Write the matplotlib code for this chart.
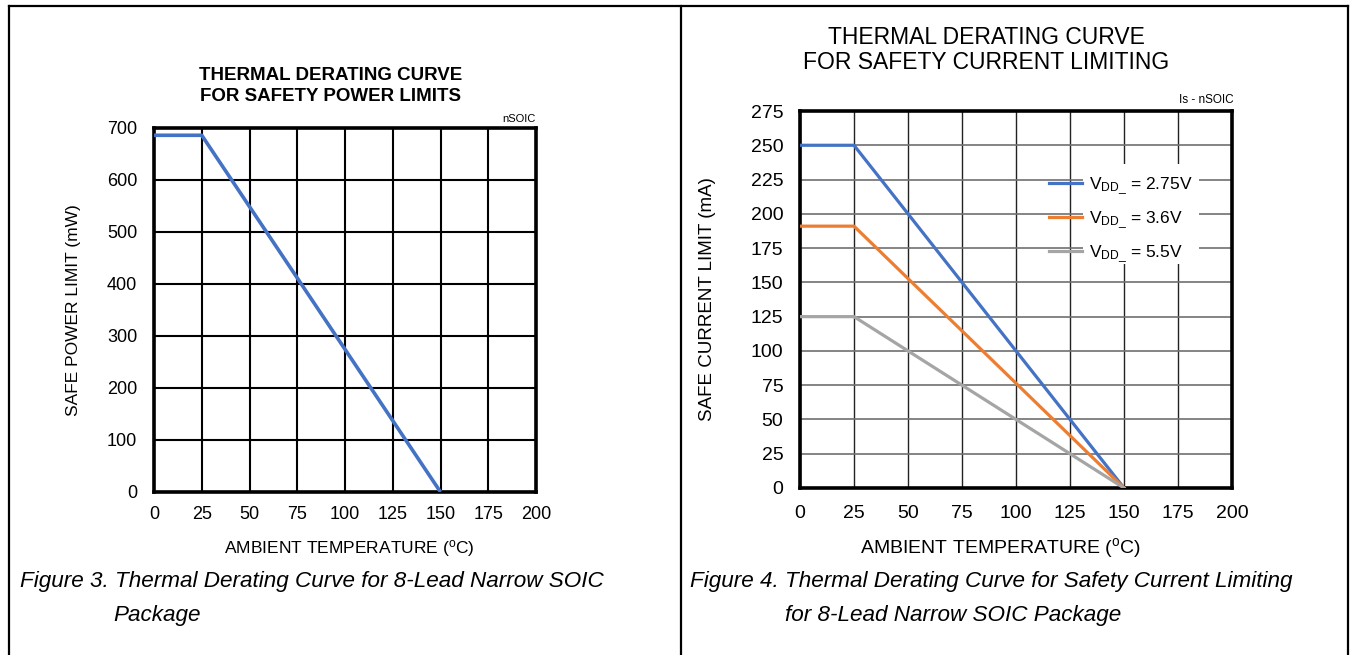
import matplotlib
matplotlib.use("Agg")
import matplotlib.pyplot as plt
from matplotlib import font_manager
from matplotlib.lines import Line2D
from matplotlib.patches import Rectangle

# ---------------- data ----------------
temp_c = [0, 25, 150]
power_mw = [686, 686, 0]

current_labels = [r"V$_{\mathrm{DD\_}}$ = 2.75V", r"V$_{\mathrm{DD\_}}$ = 3.6V", r"V$_{\mathrm{DD\_}}$ = 5.5V"]
current_2v75 = [250, 250, 0]
current_3v6 = [191, 191, 0]
current_5v5 = [125, 125, 0]

x_ticks = [0, 25, 50, 75, 100, 125, 150, 175, 200]
y_ticks_power = [0, 100, 200, 300, 400, 500, 600, 700]
y_ticks_current = [0, 25, 50, 75, 100, 125, 150, 175, 200, 225, 250, 275]

# ---------------- fonts ----------------
names = {f.name for f in font_manager.fontManager.ttflist}
narrow = "Liberation Sans Narrow" if "Liberation Sans Narrow" in names else "Liberation Sans"
plt.rcParams["font.family"] = ["Liberation Sans", "DejaVu Sans"]
plt.rcParams["mathtext.fontset"] = "custom"
plt.rcParams["mathtext.rm"] = "Liberation Sans"
plt.rcParams["mathtext.it"] = "Liberation Sans:italic"

W, H = 1353, 655
fig = plt.figure(figsize=(W / 100, H / 100), dpi=100)


def fx(px):
    return px / W


def fy(py):
    return 1 - py / H


# outer frame lines
for (x0, y0, x1, y1) in [(9, 6, 1348, 6), (9, 6, 9, 655), (1348, 6, 1348, 655), (681, 6, 681, 655)]:
    fig.add_artist(Line2D([fx(x0), fx(x1)], [fy(y0), fy(y1)], color="black", lw=1.6,
                          transform=fig.transFigure))

# ---------------- left chart ----------------
ax1 = fig.add_axes([fx(154), fy(492), fx(536) - fx(154), fy(128) - fy(492)])
ax1.plot(temp_c, power_mw, color="#4472C4", lw=2.6, solid_capstyle="butt", zorder=3)
ax1.set_xlim(0, 200)
ax1.set_ylim(0, 700)
ax1.set_xticks(x_ticks)
ax1.set_yticks(y_ticks_power)
ax1.grid(True, color="black", lw=1.5)
ax1.set_axisbelow(True)
for s in ax1.spines.values():
    s.set_linewidth(2.6)
    s.set_color("black")
ax1.tick_params(length=0, labelsize=13)
ax1.tick_params(axis="y", pad=12)
ax1.tick_params(axis="x", pad=10)
for lab in ax1.get_xticklabels() + ax1.get_yticklabels():
    lab.set_family(narrow)
ax1.set_ylabel("SAFE POWER LIMIT (mW)", fontsize=12.5, family=narrow)
ax1.yaxis.set_label_coords((81 - 154) / 382, 0.5)
ax1.set_xlabel(r"AMBIENT TEMPERATURE ($^{\mathrm{o}}$C)", fontsize=12.5, family=narrow, va="center")
ax1.xaxis.set_label_coords(0.512, -(548 - 492) / 364)

fig.text(fx(331), fy(86), "THERMAL DERATING CURVE\nFOR SAFETY POWER LIMITS", ha="center", va="center",
         fontsize=13.5, fontweight="bold", family=narrow, linespacing=1.3)
fig.text(fx(536), fy(119), "nSOIC", ha="right", va="center", fontsize=8, family=narrow)

fig.text(fx(20), fy(581), "Figure 3. Thermal Derating Curve for 8-Lead Narrow SOIC", ha="left", va="center",
         fontsize=16.2, style="italic")
fig.text(fx(113), fy(615), "Package", ha="left", va="center", fontsize=16.2, style="italic")

# ---------------- right chart ----------------
ax2 = fig.add_axes([fx(800), fy(488), fx(1232) - fx(800), fy(111) - fy(488)])
ax2.plot(temp_c, current_2v75, color="#4472C4", lw=2.3, label=current_labels[0], zorder=3)
ax2.plot(temp_c, current_3v6, color="#ED7D31", lw=2.3, label=current_labels[1], zorder=3)
ax2.plot(temp_c, current_5v5, color="#A5A5A5", lw=2.3, label=current_labels[2], zorder=3)
ax2.set_xlim(0, 200)
ax2.set_ylim(0, 275)
ax2.set_xticks(x_ticks)
ax2.set_yticks(y_ticks_current)
ax2.grid(True, axis="x", color="#222222", lw=1.0)
ax2.grid(True, axis="y", color="#707070", lw=1.2)
ax2.set_axisbelow(True)
for s in ax2.spines.values():
    s.set_linewidth(2.6)
    s.set_color("black")
ax2.tick_params(length=0, labelsize=14)
ax2.tick_params(axis="y", pad=12)
ax2.tick_params(axis="x", pad=12)
ax2.set_ylabel("SAFE CURRENT LIMIT (mA)", fontsize=13.5)
ax2.yaxis.set_label_coords((716 - 800) / 432, 0.5)
ax2.set_xlabel(r"AMBIENT TEMPERATURE ($^{\mathrm{o}}$C)", fontsize=14, va="center")
ax2.xaxis.set_label_coords((1000 - 800) / 432, -(548 - 488) / 377)

# white box behind legend text
ax2.add_patch(Rectangle(((1083 - 800) / 432, (488 - 264) / 377), (1199 - 1083) / 432, (264 - 164) / 377,
                        transform=ax2.transAxes, facecolor="white", edgecolor="none", zorder=1.5))
leg = ax2.legend(loc="upper left", bbox_to_anchor=((1049 - 800) / 432, (488 - 175) / 377), frameon=False,
                 fontsize=12.5, handlelength=1.9, handletextpad=0.4, labelspacing=0.7, borderpad=0,
                 borderaxespad=0)
leg.set_zorder(4)

fig.text(fx(986), fy(50), "THERMAL DERATING CURVE\nFOR SAFETY CURRENT LIMITING", ha="center", va="center",
         fontsize=16.5, linespacing=1.1)
fig.text(fx(1234), fy(100), "Is - nSOIC", ha="right", va="center", fontsize=8.5)

fig.text(fx(690), fy(581), "Figure 4. Thermal Derating Curve for Safety Current Limiting", ha="left",
         va="center", fontsize=16.2, style="italic")
fig.text(fx(785), fy(615), "for 8-Lead Narrow SOIC Package", ha="left", va="center", fontsize=16.2,
         style="italic")

fig.savefig("out.png", dpi=100)
